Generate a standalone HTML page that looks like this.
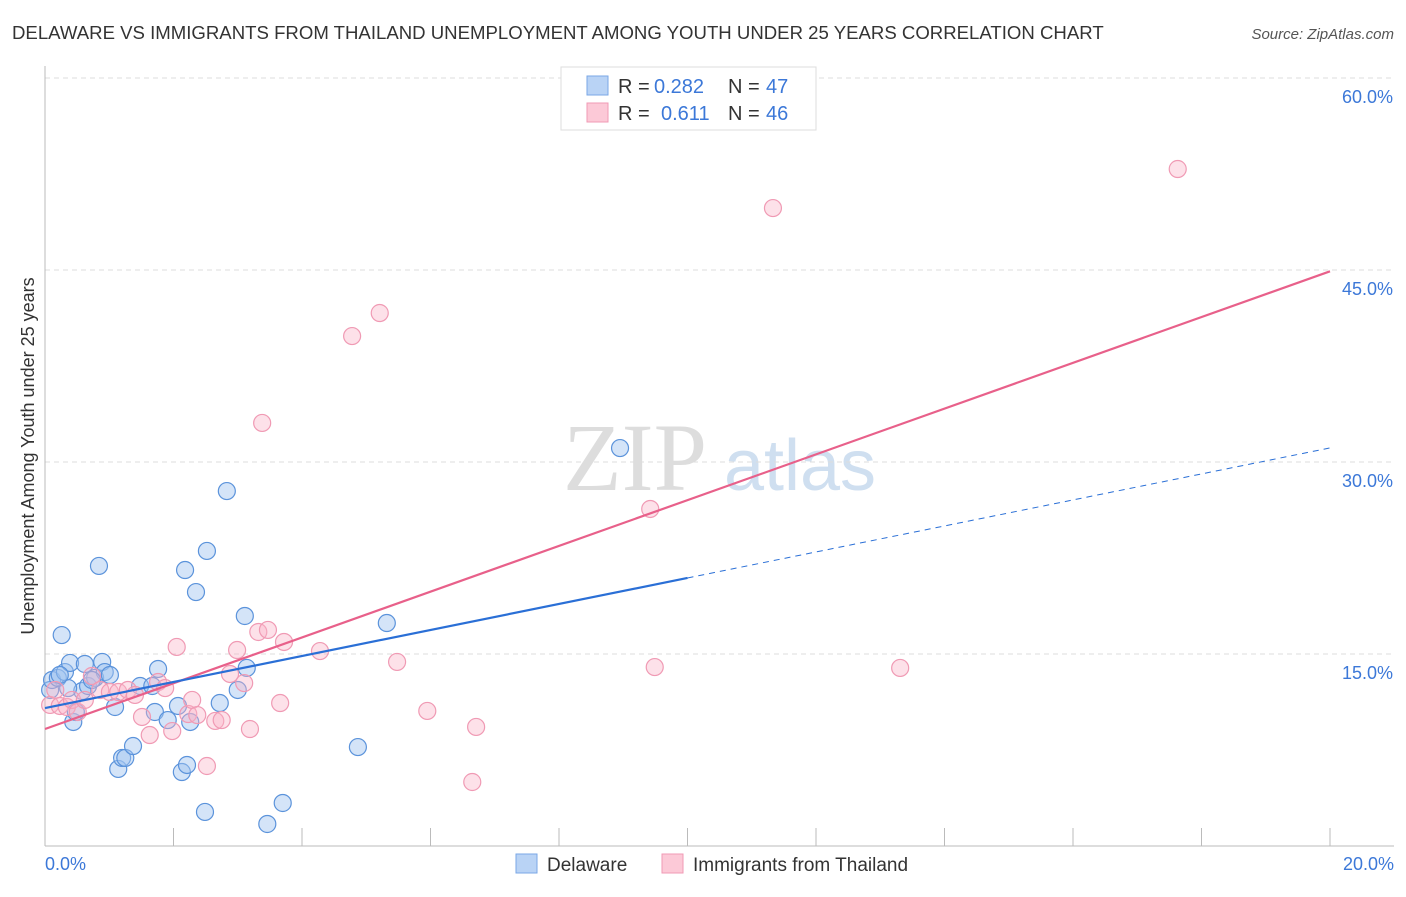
<!DOCTYPE html>
<html><head><meta charset="utf-8"><style>
body{margin:0;background:#fff;font-family:"Liberation Sans",sans-serif}
</style></head><body>
<svg id="chart" width="1406" height="892" xmlns="http://www.w3.org/2000/svg">
<text x="12" y="39" font-size="18.6" fill="#333">DELAWARE VS IMMIGRANTS FROM THAILAND UNEMPLOYMENT AMONG YOUTH UNDER 25 YEARS CORRELATION CHART</text>
<text x="1394" y="39" font-size="15" fill="#555" font-style="italic" text-anchor="end">Source: ZipAtlas.com</text>
<g><text x="635" y="490" font-size="96" fill="#ddd" font-family="Liberation Serif,serif" text-anchor="middle">ZIP</text><text x="800" y="490" font-size="72" fill="#cfdff0" text-anchor="middle">atlas</text></g>
<g id="grid"></g><g id="axes"></g><g id="marks"></g>
<text transform="translate(34,456) rotate(-90)" font-size="18" fill="#333" text-anchor="middle">Unemployment Among Youth under 25 years</text>
<g>
<rect x="561" y="67" width="255" height="63" fill="#fff" stroke="#ddd"/>
<rect x="587" y="76" width="21" height="19" fill="#b9d3f5" stroke="#7aa7e6"/>
<rect x="587" y="103" width="21" height="19" fill="#fcc9d7" stroke="#f09ab4"/>
<g font-size="20" fill="#333">
<text x="618" y="93">R =</text><text x="654" y="93" fill="#3c78d8">0.282</text><text x="728" y="93">N =</text><text x="766" y="93" fill="#3c78d8">47</text>
<text x="618" y="120">R =</text><text x="661" y="120" fill="#3c78d8">0.611</text><text x="728" y="120">N =</text><text x="766" y="120" fill="#3c78d8">46</text>
</g>
</g>
<g>
<rect x="516" y="854" width="21" height="19" fill="#b9d3f5" stroke="#7aa7e6"/><text x="547" y="871" font-size="19" fill="#333">Delaware</text>
<rect x="662" y="854" width="21" height="19" fill="#fcc9d7" stroke="#f09ab4"/><text x="693" y="871" font-size="19" fill="#333">Immigrants from Thailand</text>
</g>
</svg>
<script>
const yTicks=[15,30,45,60];
const yTickLabels=["15.0%","30.0%","45.0%","60.0%"];
const xTickLabels=["0.0%","20.0%"];
const blueX=[.08,.11,.20,.26,.31,.39,.44,.48,.58,.62,.67,.78,.84,.89,.93,1.01,1.09,1.14,1.20,1.25,1.37,1.48,1.67,1.71,1.76,1.91,2.07,2.13,2.18,2.21,2.26,2.35,2.49,2.52,2.72,2.83,3.00,3.11,3.14,3.46,3.70,4.87,5.32,8.95,.36,.23,.73];
const blueY=[12.19,12.97,13.13,16.48,13.59,14.30,9.69,10.47,12.11,14.22,12.50,13.13,21.88,14.38,13.59,13.36,10.86,6.02,6.88,6.88,7.81,12.50,12.50,10.47,13.83,9.84,10.94,5.78,21.56,6.33,9.69,19.84,2.66,23.05,11.17,27.73,12.19,17.97,13.91,1.72,3.36,7.73,17.42,31.09,12.34,13.36,12.97];
const pinkX=[.08,.16,.23,.34,.42,.51,.62,.73,.86,1.01,1.14,1.29,1.40,1.51,1.63,1.76,1.87,1.98,2.05,2.23,2.29,2.37,2.52,2.65,2.75,2.88,2.99,3.10,3.19,3.32,3.38,3.47,3.66,3.72,4.28,4.78,5.21,5.48,5.95,6.65,6.71,9.42,9.49,11.33,13.31,17.63];
const pinkY=[11.02,12.19,10.94,10.86,11.41,10.47,11.41,13.28,12.19,12.03,12.03,12.19,11.80,10.08,8.67,12.81,12.34,8.98,15.55,10.31,11.41,10.23,6.25,9.77,9.84,13.44,15.31,12.73,9.14,16.72,33.05,16.88,11.17,15.94,15.23,39.84,41.64,14.38,10.55,5.00,9.30,26.33,13.98,49.84,13.91,52.89];
const blueLine=[10.78,31.1], blueSolidEnd=10.0;
const pinkLine=[9.14,44.9];
const NS="http://www.w3.org/2000/svg";
const sx=v=>45+v/20*1285, sy=v=>846-v/15*192;
function mk(tag,attrs,parent){const e=document.createElementNS(NS,tag);for(const k in attrs)e.setAttribute(k,attrs[k]);document.getElementById(parent).appendChild(e);return e;}
yTicks.forEach((t,i)=>{
 const g=mk('line',{x1:45,x2:1394,y1:sy(t),y2:sy(t),stroke:'#ddd','stroke-dasharray':'5,4'},'grid');
 
 
 const l=mk('text',{x:1393,y:sy(t)+25,'font-size':18,fill:'#3c78d8','text-anchor':'end'},'axes');l.textContent=yTickLabels[i];
 
 
});
mk('line',{x1:45,x2:45,y1:66,y2:846,stroke:'#bbb'},'axes');
mk('line',{x1:45,x2:1394,y1:846,y2:846,stroke:'#bbb'},'axes');
for(let i=1;i<=10;i++){const x=sx(i*2);const t=mk('line',{x1:x,x2:x,y1:828,y2:846,stroke:'#bbb'},'axes');
 
 }
[[0,'start',45],[1,'end',1394]].forEach(([i,a,x])=>{const l=mk('text',{x:x,y:870,'font-size':18,fill:'#3c78d8','text-anchor':a},'axes');l.textContent=xTickLabels[i];
 
 });
blueX.forEach((x,i)=>{const c=mk('circle',{cx:sx(x),cy:sy(blueY[i]),r:8.5,fill:'rgba(160,196,240,0.45)',stroke:'#5b93db','stroke-width':1.2},'marks');
 
 });
pinkX.forEach((x,i)=>{const c=mk('circle',{cx:sx(x),cy:sy(pinkY[i]),r:8.5,fill:'rgba(250,180,200,0.4)',stroke:'#f09ab4','stroke-width':1.2},'marks');
 
 });
const bAt=x=>blueLine[0]+(blueLine[1]-blueLine[0])*x/20;
const pl=mk('line',{x1:sx(0),y1:sy(pinkLine[0]),x2:sx(20),y2:sy(pinkLine[1]),stroke:'#e8608a','stroke-width':2.2},'marks');


const bl=mk('line',{x1:sx(0),y1:sy(bAt(0)),x2:sx(blueSolidEnd),y2:sy(bAt(blueSolidEnd)),stroke:'#2a6fd6','stroke-width':2.2},'marks');


const bd=mk('line',{x1:sx(blueSolidEnd),y1:sy(bAt(blueSolidEnd)),x2:sx(20),y2:sy(bAt(20)),stroke:'#2a6fd6','stroke-width':1,'stroke-dasharray':'6,5'},'marks');


</script>
</body></html>
